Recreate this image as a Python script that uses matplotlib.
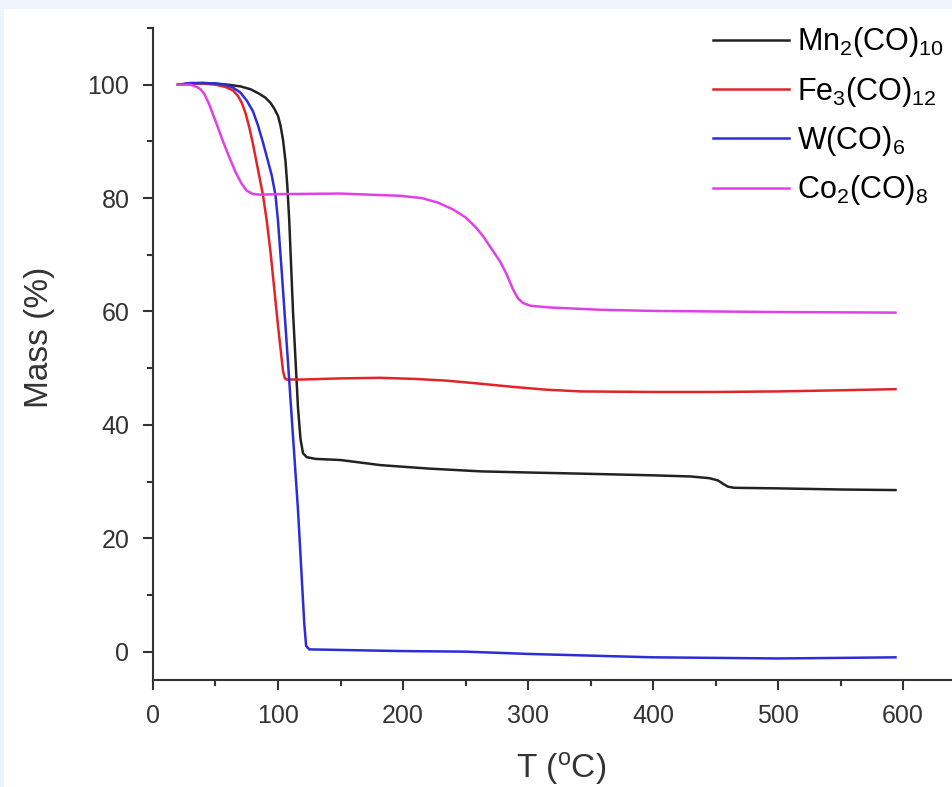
import matplotlib
matplotlib.use('Agg')
import matplotlib.pyplot as plt
from matplotlib.patches import Rectangle
from matplotlib.ticker import MultipleLocator

plt.rcParams['font.family'] = 'Liberation Sans'
plt.rcParams['mathtext.fontset'] = 'custom'
plt.rcParams['mathtext.rm'] = 'Liberation Sans'
plt.rcParams['mathtext.it'] = 'Liberation Sans'

# TGA curves (T in degC, mass in %)
T_mn = [20, 30, 40, 50, 60, 70, 78, 85, 90, 94, 97, 100, 102, 104, 106, 107.5, 109, 110.5, 112, 114,
        116, 118, 120, 123, 130, 150, 182, 220, 262, 300, 342, 400, 430, 445, 452, 456,
        460, 465, 500, 550, 594]
m_mn = [100, 100.2, 100.3, 100.2, 100, 99.7, 99.2, 98.4, 97.7, 96.8, 95.8, 94.5, 92.8, 90.3, 86.5, 82, 76, 68, 60, 51.5,
        43, 37.5, 35, 34.3, 34, 33.8, 32.9, 32.3, 31.8, 31.6, 31.4, 31.1, 30.9, 30.6, 30.2, 29.6,
        29.1, 28.9, 28.8, 28.6, 28.5]

T_fe = [20, 30, 40, 50, 58, 64, 68, 71, 74, 77, 80, 84, 88, 91, 94, 97, 100, 102, 104,
        105.5, 107, 120, 150, 182, 210, 235, 260, 288, 315, 342, 400, 450, 500, 550, 594]
m_fe = [100, 100.2, 100.2, 100, 99.6, 99, 98, 96.8, 95, 92.5, 89.5, 85, 80.5, 76, 70.5, 64, 57.5, 53.5, 49.5,
        48.2, 48, 48, 48.2, 48.3, 48.1, 47.8, 47.3, 46.7, 46.2, 45.9, 45.8, 45.8, 45.9, 46.1, 46.3]

T_w = [20, 30, 40, 50, 58, 64, 70, 75, 80, 84, 88, 92, 95, 98, 100, 103, 108, 112, 116, 119,
       121, 122.5, 125, 150, 200, 250, 300, 350, 400, 450, 500, 550, 594]
m_w = [100, 100.3, 100.3, 100.2, 100, 99.5, 98.6, 97.2, 95.3, 92.8, 89.8, 86.5, 84, 80.5, 76, 67, 51, 38, 25, 13,
       5, 1, 0.4, 0.3, 0.1, 0, -0.4, -0.7, -1.0, -1.1, -1.2, -1.1, -1.0]

T_co = [20, 30, 35, 38, 41, 45, 51, 56, 61.6, 66, 71, 75, 80, 86, 100, 150, 198, 215, 228,
        240, 250, 258, 264, 271, 278, 283, 288, 292, 296, 302, 318, 358, 400, 500, 594]
m_co = [100, 100, 99.6, 99.2, 98.4, 96.5, 93, 90, 86.9, 84.6, 82.5, 81.3, 80.7, 80.6, 80.7, 80.8, 80.4, 80, 79.2,
        78, 76.6, 74.9, 73.3, 71, 68.7, 66.5, 63.9, 62.3, 61.5, 61, 60.7, 60.3, 60.1, 59.9, 59.8]

labels = [r'Mn$_2$(CO)$_{10}$', r'Fe$_3$(CO)$_{12}$', r'W(CO)$_6$', r'Co$_2$(CO)$_8$']
colors = ['#222222', '#e02428', '#2c2cd8', '#e040e6']

fig = plt.figure(figsize=(9.53, 7.87), dpi=100, facecolor='#eef4fc')
fig.patches.append(Rectangle((0.004, 0), 0.996, 1 - 9 / 787, transform=fig.transFigure,
                             facecolor='white', edgecolor='none', zorder=-5))
ax = fig.add_axes([153 / 953, 1 - 680 / 787, 1 - 153 / 953, (680 - 28) / 787])
ax.set_facecolor('none')

for T, m, lab, c in zip([T_mn, T_fe, T_w, T_co], [m_mn, m_fe, m_w, m_co], labels, colors):
    ax.plot(T, m, color=c, lw=1.8, label=lab, solid_joinstyle='round')

ax.set_xlim(0, 640)
ax.set_ylim(-5, 110)
ax.xaxis.set_major_locator(MultipleLocator(100))
ax.xaxis.set_minor_locator(MultipleLocator(50))
ax.yaxis.set_major_locator(MultipleLocator(20))
ax.yaxis.set_minor_locator(MultipleLocator(10))
ax.set_xticks(range(0, 601, 100))

for s in ['top', 'right']:
    ax.spines[s].set_visible(False)
for s in ['left', 'bottom']:
    ax.spines[s].set_color('#333333')
    ax.spines[s].set_linewidth(1.5)

ax.tick_params(which='both', direction='out', color='#333333', width=1.5)
ax.tick_params(which='major', length=7, labelsize=18, labelcolor='#333333')
ax.tick_params(axis='y', which='major', pad=10)
ax.tick_params(axis='x', which='major', pad=10)
ax.tick_params(which='minor', length=4)

ax.set_xlabel(r'T ($^{\rm o}$C)', fontsize=24, color='#333333')
ax.set_ylabel('Mass (%)', fontsize=24, color='#333333')
ax.xaxis.set_label_coords(0.51, -0.108)
ax.yaxis.set_label_coords(-0.123, 0.526)

ax.legend(loc='upper right', bbox_to_anchor=(1.0, 1.018), frameon=False, fontsize=22,
          handlelength=2.5, labelspacing=0.5, handletextpad=0.25, borderaxespad=0.0,
          borderpad=0.3)

fig.savefig('out.png', dpi=100, facecolor=fig.get_facecolor())
